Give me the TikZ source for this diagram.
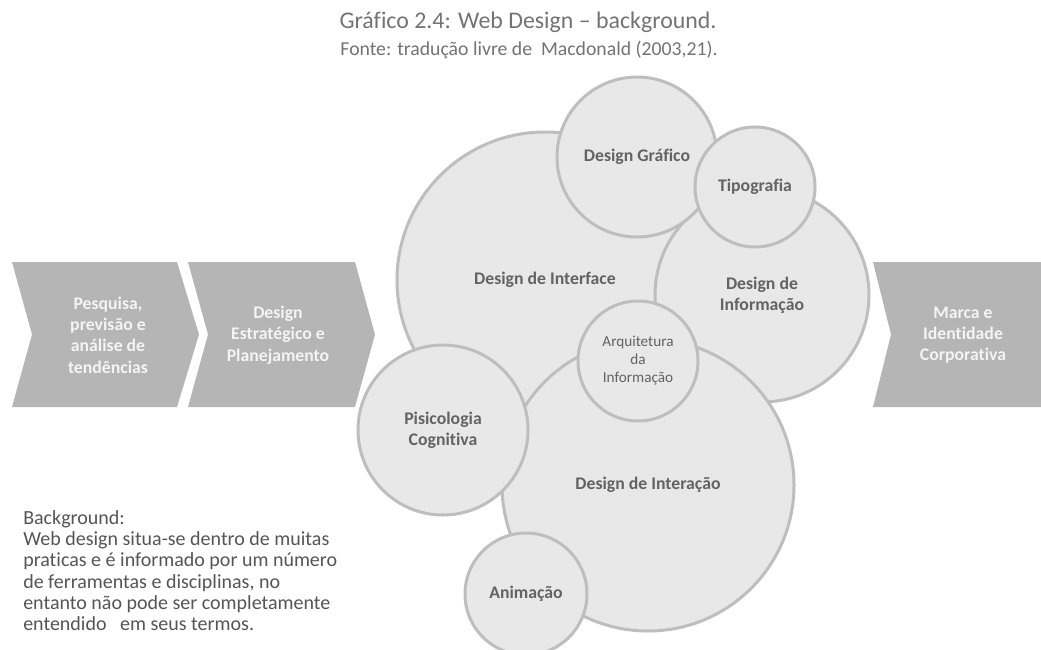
\documentclass[tikz,border=0pt]{standalone}
\usepackage{fontspec}
\setmainfont{Carlito}[Ligatures=NoCommon]

\definecolor{bubblefill}{HTML}{E8E8E8}
\definecolor{bubbleline}{HTML}{BEBEBE}
\definecolor{bubbletext}{HTML}{636363}
\definecolor{chevfill}{HTML}{B5B5B5}
\definecolor{chevtext}{HTML}{F4F4F4}
\definecolor{captiongray}{HTML}{737373}
\definecolor{notegray}{HTML}{555555}

\begin{document}
\begin{tikzpicture}[x=0.75pt,y=-0.75pt,
  bubble/.style={circle,draw=bubbleline,fill=bubblefill,line width=2.25pt,inner sep=0pt,
    minimum size=#1*1.5pt,align=center,text=bubbletext,font=\fontsize{13.3}{16}\selectfont\bfseries},
  chevlabel/.style={align=center,text=chevtext,font=\fontsize{13.3}{16}\selectfont\bfseries}]

\fill [white] (0,0) rectangle (1041,649);
\useasboundingbox (0,0) rectangle (1041,649);

\node [anchor=base,text=captiongray,font=\fontsize{17.9}{20}\selectfont] (title) at (528,29) {Gráfico 2.4: Web Design – background.};
\node [anchor=base,text=captiongray,font=\fontsize{14.8}{18}\selectfont] (fonte) at (529,56) {Fonte: tradução livre de\ \ Macdonald (2003,21).};

\fill [chevfill] (12,262) -- (177,262) -- (199,334.5) -- (177,407) -- (12,407) -- (32,334.5) -- cycle;
\fill [chevfill] (188,262) -- (355,262) -- (375,334.5) -- (355,407) -- (188,407) -- (208,334.5) -- cycle;
\fill [chevfill] (873,262) -- (1041,262) -- (1041,407) -- (873,407) -- (891,334.5) -- cycle;

\node [chevlabel] (pesquisa) at (108,335) {Pesquisa,\\previsão e\\análise de\\tendências};
\node [chevlabel] (estrategico) at (278,335) {Design\\Estratégico e\\Planejamento};
\node [chevlabel] (marca) at (963,335) {Marca e\\Identidade\\Corporativa};

\node [bubble=148] (interface) at (545,280) {Design de Interface};
\node [bubble=107] (informacao) at (762,295) {Design de\\Informação};
\node [bubble=80] (grafico) at (637,157) {Design Gráfico};
\node [bubble=60] (tipografia) at (755,187) {Tipografia};
\node [bubble=146] (interacao) at (648,485) {Design de Interação};
\node [bubble=60,font=\fontsize{11.4}{13.5}\selectfont] (arquitetura) at (638,361) {Arquitetura\\da\\Informação};
\node [bubble=85] (pisicologia) at (443,430) {Pisicologia\\Cognitiva};
\node [bubble=61] (animacao) at (526,594) {Animação};

\node [anchor=north west,align=left,inner sep=0pt,text=notegray,font=\fontsize{15}{16}\selectfont] (background) at (23,510)
  {Background:\\Web design situa-se dentro de muitas\\praticas e é informado por um número\\de ferramentas e disciplinas, no\\entanto não pode ser completamente\\entendido\ \ \ em seus termos.};

\end{tikzpicture}
\end{document}
